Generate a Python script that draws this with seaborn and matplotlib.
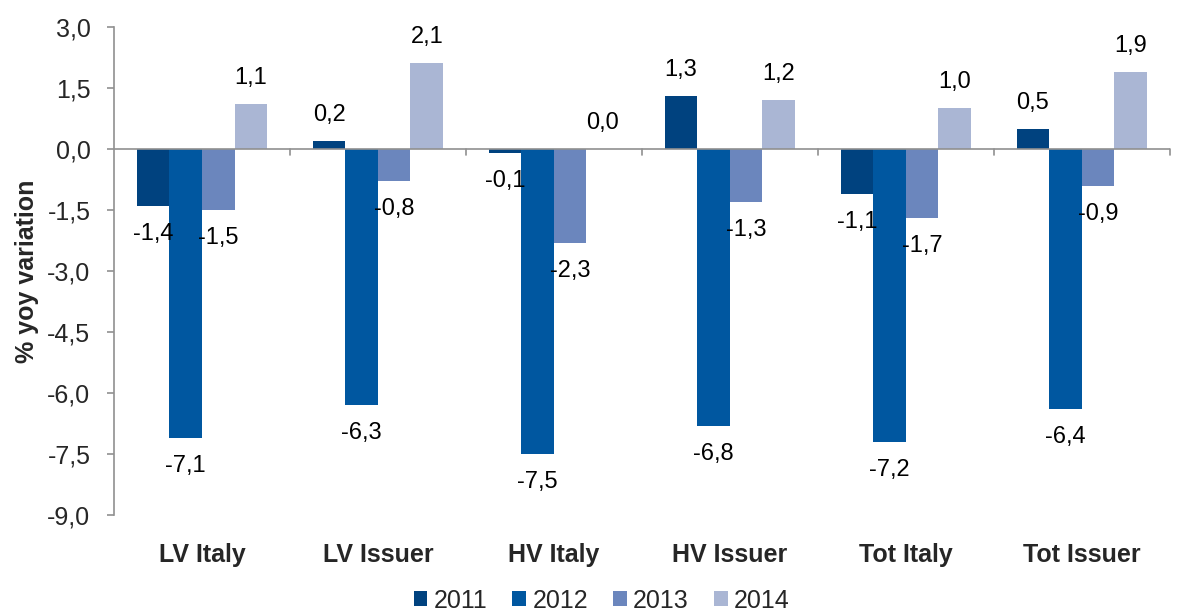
import pandas as pd
import matplotlib.pyplot as plt
import seaborn as sns

# Chart data
categories = ["LV Italy", "LV Issuer", "HV Italy", "HV Issuer", "Tot Italy", "Tot Issuer"]
years = ["2011", "2012", "2013", "2014"]
values_2011 = [-1.4, 0.2, -0.1, 1.3, -1.1, 0.5]
values_2012 = [-7.1, -6.3, -7.5, -6.8, -7.2, -6.4]
values_2013 = [-1.5, -0.8, -2.3, -1.3, -1.7, -0.9]
values_2014 = [1.1, 2.1, 0.0, 1.2, 1.0, 1.9]
y_ticks = [3.0, 1.5, 0.0, -1.5, -3.0, -4.5, -6.0, -7.5, -9.0]

palette = ["#00427F", "#0057A0", "#6B86BD", "#AAB6D4"]

sns.set_theme(style="white")
plt.rcParams['font.family'] = ['Liberation Sans', 'DejaVu Sans']

rows = []
for year, vals in zip(years, [values_2011, values_2012, values_2013, values_2014]):
    for cat, v in zip(categories, vals):
        rows.append({"category": cat, "year": year, "value": v})
df = pd.DataFrame(rows)

fig = plt.figure(figsize=(11.82, 6.11), dpi=100)
ax = fig.add_axes([0.0965, 0.157, 0.893, 0.799])

sns.barplot(data=df, x="category", y="value", hue="year", order=categories,
            hue_order=years, palette=palette, width=0.74, saturation=1,
            edgecolor="none", ax=ax, legend=True)

ax.set_ylim(-9.0, 3.0)
ax.set_xlim(-0.5, len(categories) - 0.5)
ax.set_yticks(y_ticks)
ax.set_yticklabels([f"{t:.1f}".replace(".", ",") for t in y_ticks], fontsize=18)
ax.tick_params(axis="y", length=5, width=1.2, color="#909090", direction="out", left=True, pad=12)
ax.tick_params(axis="x", length=0, pad=20)
for lbl in ax.get_xticklabels():
    lbl.set_fontweight("bold")
    lbl.set_fontsize(18)
ax.set_xlabel("")
ax.set_ylabel("% yoy variation", fontsize=18, fontweight="bold", labelpad=6)

for side in ["top", "right", "bottom"]:
    ax.spines[side].set_visible(False)
ax.spines["left"].set_color("#909090")
ax.spines["left"].set_linewidth(1.2)

# zero line with category separator ticks
ax.axhline(0, color="#909090", lw=1.2, zorder=3)
for b in range(1, len(categories) + 1):
    ax.plot([b - 0.5, b - 0.5], [0, -0.15], color="#909090", lw=1.2, clip_on=False, zorder=3)

# value labels
for container in ax.containers:
    for bar in container:
        h = bar.get_height()
        x = bar.get_x() + bar.get_width() / 2
        off = 26 if h >= 0 else -28
        ax.annotate(f"{h:.1f}".replace(".", ","), (x, h), xytext=(0, off),
                    textcoords="offset pixels",
                    ha="center", va="center", fontsize=17, color="black")

# legend sits centred on the figure, not the axes
ax.legend(loc="center", bbox_to_anchor=(0.509, 0.017), bbox_transform=fig.transFigure,
          ncol=4, frameon=False,
          fontsize=18, handlelength=0.55, handleheight=0.55, handletextpad=0.25,
          columnspacing=1.0, borderaxespad=0, borderpad=0)

fig.savefig("out.png", dpi=100)
